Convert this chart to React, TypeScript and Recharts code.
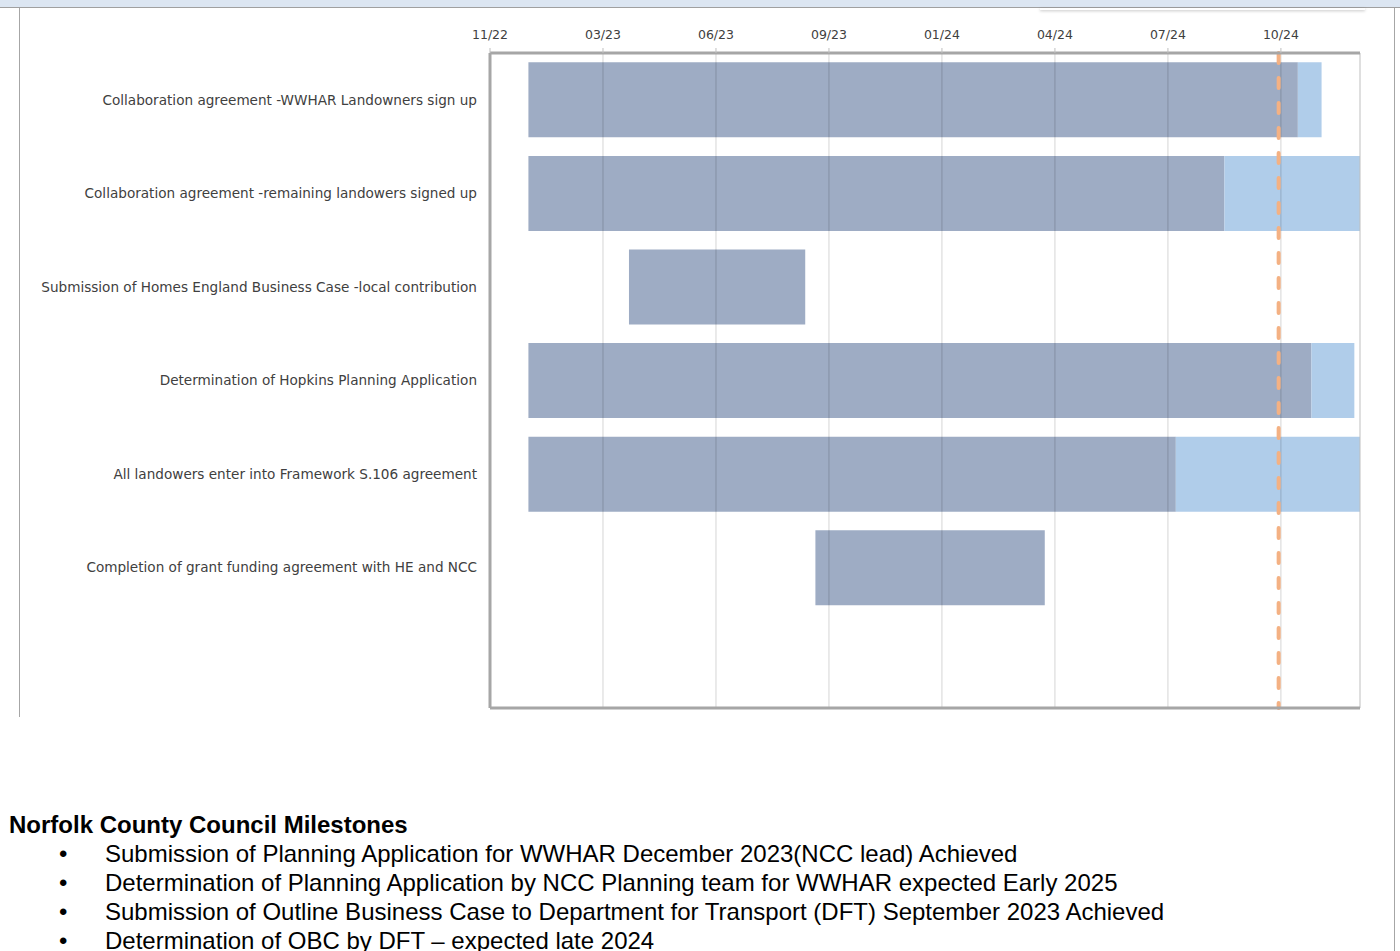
import {
  BarChart,
  Bar,
  XAxis,
  YAxis,
  ReferenceLine,
} from 'recharts';

// axis origin and end (Excel date axis, 100-day major unit)
const axisStart = '2022-11-30';
const axisEnd = '2025-01-08';
const tickDates = ['2022-11-30', '2023-03-10', '2023-06-18', '2023-09-26', '2024-01-04', '2024-04-13', '2024-07-22', '2024-10-30'];
const todayDate = '2024-10-28';

const tasks = [
  'Collaboration agreement -WWHAR Landowners sign up',
  'Collaboration agreement -remaining landowers signed up',
  'Submission of Homes England Business Case -local contribution',
  'Determination of Hopkins Planning Application ',
  'All landowers enter into Framework S.106 agreement ',
  'Completion of grant funding agreement with HE and NCC',
  '',
];
const startDates = ['2023-01-03', '2023-01-03', '2023-04-02', '2023-01-03', '2023-01-03', '2023-09-14', null];
const doneDates = ['2024-11-14', '2024-09-10', '2023-09-05', '2024-11-26', '2024-07-29', '2024-04-04', null];
const endDates = ['2024-12-05', '2025-01-08', '2023-09-05', '2025-01-03', '2025-01-08', '2024-04-04', null];

const milestones = [
  'Submission of Planning Application for WWHAR December 2023(NCC lead) Achieved',
  'Determination of Planning Application by NCC Planning team for WWHAR expected Early 2025',
  'Submission of Outline Business Case to Department for Transport (DFT) September 2023 Achieved',
  'Determination of OBC by DFT \u2013 expected late 2024',
];

const DAY = 86400000;
const day = (d: string) => Math.round((Date.parse(d) - Date.parse(axisStart)) / DAY);

const data = tasks.map((task, i) => {
  const s = startDates[i];
  if (!s) return { task, offset: 0, done: 0, remaining: 0 };
  return {
    task,
    offset: day(s),
    done: day(doneDates[i]!) - day(s),
    remaining: day(endDates[i]!) - day(doneDates[i]!),
  };
});

const ticks = tickDates.map(day);
const fmtTick = (v: number) => {
  const d = new Date(Date.parse(axisStart) + v * DAY);
  const mm = String(d.getUTCMonth() + 1).padStart(2, '0');
  const yy = String(d.getUTCFullYear()).slice(2);
  return `${mm}/${yy}`;
};

const labelFont = 'DejaVu Sans';

export default function App() {
  return (
    <div style={{ position: 'absolute', left: 0, top: 0, width: 1400, height: 951, overflow: 'hidden', background: '#fff' }}>
      {/* page frame bits */}
      <div style={{ position: 'absolute', left: 0, top: 0, width: 1400, height: 7, background: '#dce6f2', borderBottom: '1px solid #a0a0a0' }} />
      <div style={{ position: 'absolute', left: 1040, top: 8, width: 325, height: 2, boxShadow: '0 1px 3px rgba(0,0,0,0.25)' }} />
      <div style={{ position: 'absolute', left: 19, top: 8, width: 1, height: 709, background: '#a6a6a6' }} />
      <div style={{ position: 'absolute', left: 1394, top: 8, width: 1, height: 943, background: '#a6a6a6' }} />

      <div style={{ position: 'absolute', left: 0, top: 0 }}>
        <BarChart
          width={1400}
          height={720}
          layout="vertical"
          data={data}
          barCategoryGap="10%"
          margin={{ top: 0, right: 40, bottom: 0, left: 0 }}
        >
          <XAxis
            type="number"
            orientation="top"
            domain={[0, day(axisEnd)]}
            ticks={ticks}
            tickFormatter={fmtTick}
            height={53}
            interval={0}
            axisLine={{ stroke: '#a6a6a6', strokeWidth: 3 }}
            tickLine={{ stroke: '#bfbfbf' }}
            tickSize={5}
            tickMargin={9}
            tick={{ fill: '#404040', fontSize: 12.5, fontFamily: labelFont }}
          />
          <XAxis
            xAxisId="bottom"
            type="number"
            orientation="bottom"
            domain={[0, day(axisEnd)]}
            height={12}
            tick={false}
            tickLine={false}
            axisLine={{ stroke: '#a6a6a6', strokeWidth: 3 }}
          />
          <YAxis
            type="category"
            dataKey="task"
            width={490}
            interval={0}
            axisLine={{ stroke: '#a6a6a6', strokeWidth: 3 }}
            tickLine={false}
            tickSize={0}
            tickMargin={13}
            tick={{ fill: '#404040', fontSize: 13.6, fontFamily: labelFont }}
          />
          <Bar dataKey="offset" stackId="g" fill="transparent" isAnimationActive={false} />
          <Bar dataKey="done" stackId="g" fill="#9eacc4" isAnimationActive={false} />
          <Bar dataKey="remaining" stackId="g" fill="#b0cdea" isAnimationActive={false} />
          {ticks.map((t) => (
            <ReferenceLine key={t} x={t} stroke="#000" strokeOpacity={0.17} strokeWidth={1} />
          ))}
          <ReferenceLine x={day(axisEnd)} stroke="#bfbfbf" strokeWidth={1} />
          <ReferenceLine
            x={day(todayDate)}
            stroke="#f4b183"
            strokeWidth={4}
            strokeDasharray="10 15"
            strokeLinecap="round"
          />
        </BarChart>
      </div>

      <div
        style={{
          position: 'absolute',
          left: 9,
          top: 810,
          fontFamily: '"Liberation Sans", Arial, sans-serif',
          fontSize: 24,
          color: '#000',
          lineHeight: '29px',
        }}
      >
        <div style={{ fontWeight: 'bold' }}>Norfolk County Council Milestones</div>
        {milestones.map((m) => (
          <div key={m} style={{ position: 'relative', paddingLeft: 96 }}>
            <span style={{ position: 'absolute', left: 50 }}>{'\u2022'}</span>
            {m}
          </div>
        ))}
      </div>
    </div>
  );
}
